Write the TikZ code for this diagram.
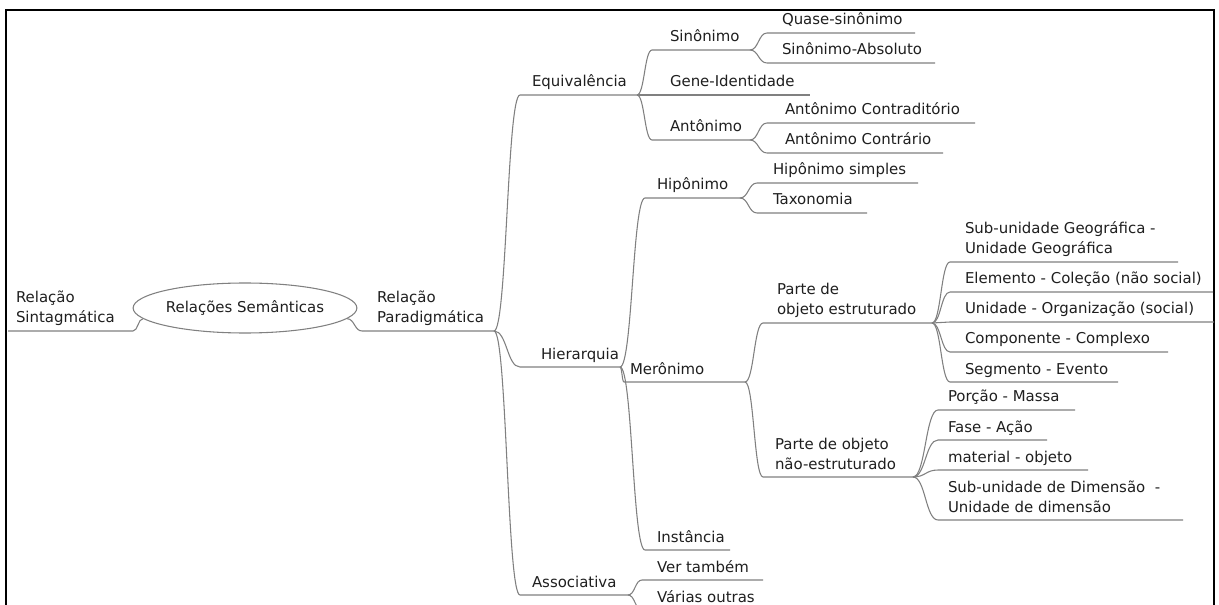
\documentclass[tikz,border=0pt]{standalone}
\usepackage{fontspec}
\setmainfont{DejaVu Sans}
\usetikzlibrary{shapes.geometric,calc}
\newdimen\myu \myu=0.75pt
% pad, width (in reference px), text
\newcommand\mlbl[3]{\makebox[#2\myu][l]{\hspace*{#1\myu}\begin{tabular}[b]{@{}l@{}}#3\end{tabular}}}
\definecolor{edgegray}{gray}{0.5}
\definecolor{txt}{gray}{0.12}
\tikzset{
  item/.style={anchor=south west, inner xsep=0pt, inner ysep=1.5pt, outer sep=0pt, text=txt},
  link/.style={draw=edgegray, line width=0.8pt},
  sedge/.style={to path={let \p1=(\tikztostart), \p2=(\tikztotarget) in
      .. controls ({(\x1+\x2)/2},\y1) and ({(\x1+\x2)/2},\y2) .. (\tikztotarget) \tikztonodes}},
}
\begin{document}
\begin{tikzpicture}[x=0.75pt, y=-0.75pt, font=\fontsize{11.2}{15}\selectfont]
\useasboundingbox (0,0) rectangle (1219,605);
\clip (0,0) rectangle (1219,605);
\fill[white] (0,0) rectangle (1219,605);
\draw[line width=2.2pt, black] (6,10) rectangle (1214,640);

% root
\node[ellipse, draw=edgegray, line width=0.8pt, minimum width=194\myu, minimum height=50\myu, inner sep=0pt, text=txt] (root) at (245,308) {Relações Semânticas};

\node[item] (sint) at (8,331) {\mlbl{8}{125}{Relação\\Sintagmática}};
\node[item] (para) at (362,331) {\mlbl{15}{132}{Relação\\Paradigmática}};

% level 2
\node[item] (equiv) at (520,95) {\mlbl{12}{117}{Equivalência}};
\node[item] (hier) at (520,367) {\mlbl{21}{100}{Hierarquia}};
\node[item] (assoc) at (520,595) {\mlbl{12}{108}{Associativa}};

% equivalencia
\node[item] (sin) at (652,50) {\mlbl{18}{98}{Sinônimo}};
\node[item] (gene) at (652,95) {\mlbl{18}{158}{Gene-Identidade}};
\node[item] (anto) at (652,140) {\mlbl{18}{98}{Antônimo}};
\node[item] (quase) at (767,33) {\mlbl{15}{148}{Quase-sinônimo}};
\node[item] (sinabs) at (767,63) {\mlbl{15}{168}{Sinônimo-Absoluto}};
\node[item] (contrad) at (767,123) {\mlbl{18}{208}{Antônimo Contraditório}};
\node[item] (contrar) at (767,153) {\mlbl{18}{176}{Antônimo Contrário}};

% hierarquia
\node[item] (hipo) at (645,198) {\mlbl{12}{95}{Hipônimo}};
\node[item] (hiposimp) at (757,183) {\mlbl{16}{161}{Hipônimo simples}};
\node[item] (taxo) at (757,213) {\mlbl{16}{110}{Taxonomia}};
\node[item] (mero) at (624,382) {\mlbl{6}{121}{Merônimo}};
\node[item] (inst) at (645,550) {\mlbl{12}{85}{Instância}};

\node[item] (pest) at (763,323) {\mlbl{14}{169}{Parte de\\objeto estruturado}};
\node[item] (subgeo) at (950,262) {\mlbl{15}{228}{Sub-unidade Geográfica -\\Unidade Geográfica}};
\node[item] (elem) at (950,292) {\mlbl{15}{263}{Elemento - Coleção (não social)}};
\node[item] (unid) at (950,322) {\mlbl{15}{264}{Unidade - Organização (social)}};
\node[item] (comp) at (950,352) {\mlbl{15}{218}{Componente - Complexo}};
\node[item] (seg) at (950,382) {\mlbl{15}{168}{Segmento - Evento}};

\node[item] (pnest) at (763,477) {\mlbl{12}{150}{Parte de objeto\\não-estruturado}};
\node[item] (porc) at (938,410) {\mlbl{10}{137}{Porção - Massa}};
\node[item] (fase) at (938,440) {\mlbl{10}{109}{Fase - Ação}};
\node[item] (mat) at (938,470) {\mlbl{10}{150}{material - objeto}};
\node[item] (subdim) at (938,520) {\mlbl{10}{245}{Sub-unidade de Dimensão~ -\\Unidade de dimensão}};

% associativa
\node[item] (ver) at (642,580) {\mlbl{15}{121}{Ver também}};
\node[item] (varias) at (642,610) {\mlbl{15}{123}{Várias outras}};

% connectors
\draw[link] (sint.south west) -- (sint.south east) to[sedge] (root.186);
\draw[link] (root.354) to[sedge] (para.south west) -- (para.south east);

\foreach \c in {equiv,hier,assoc}
  \draw[link] (para.south east) to[sedge] (\c.south west) -- (\c.south east);
\foreach \c in {sin,gene,anto}
  \draw[link] (equiv.south east) to[sedge] (\c.south west) -- (\c.south east);
\foreach \c in {quase,sinabs}
  \draw[link] (sin.south east) to[sedge] (\c.south west) -- (\c.south east);
\foreach \c in {contrad,contrar}
  \draw[link] (anto.south east) to[sedge] (\c.south west) -- (\c.south east);
\foreach \c in {hipo,mero,inst}
  \draw[link] (hier.south east) to[sedge] (\c.south west) -- (\c.south east);
\foreach \c in {hiposimp,taxo}
  \draw[link] (hipo.south east) to[sedge] (\c.south west) -- (\c.south east);
\foreach \c in {pest,pnest}
  \draw[link] (mero.south east) to[sedge] (\c.south west) -- (\c.south east);
\foreach \c in {subgeo,elem,unid,comp,seg}
  \draw[link] (pest.south east) to[sedge] (\c.south west) -- (\c.south east);
\foreach \c in {porc,fase,mat,subdim}
  \draw[link] (pnest.south east) to[sedge] (\c.south west) -- (\c.south east);
\foreach \c in {ver,varias}
  \draw[link] (assoc.south east) to[sedge] (\c.south west) -- (\c.south east);
\end{tikzpicture}
\end{document}
